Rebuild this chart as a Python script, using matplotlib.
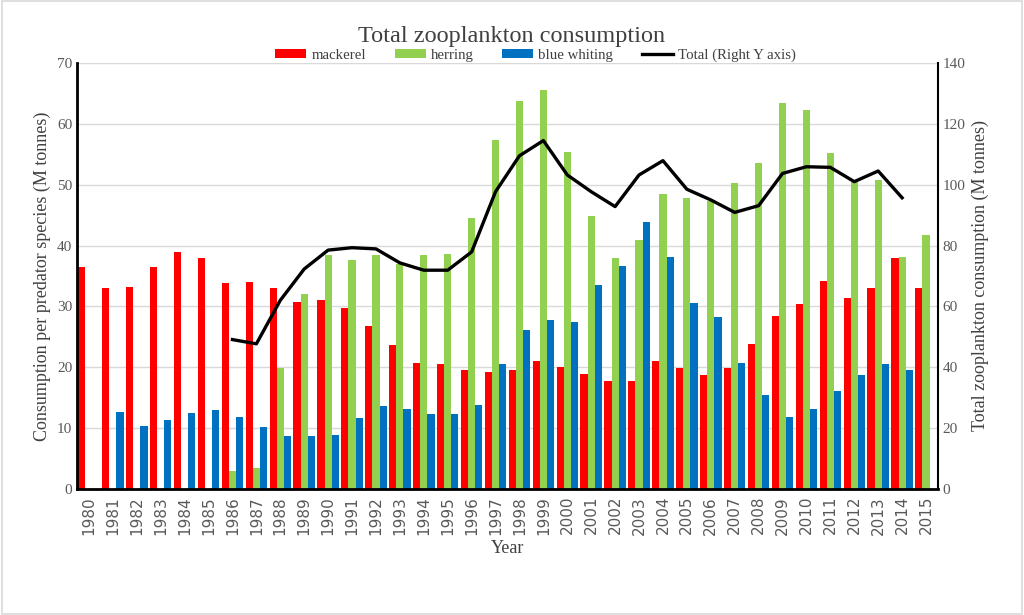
import numpy as np
import matplotlib
matplotlib.use("Agg")
import matplotlib.pyplot as plt
from matplotlib.patches import Rectangle

years = list(range(1980, 2016))
mackerel = [36.5, 33.0, 33.2, 36.5, 38.9, 37.9, 33.8, 34.0, 33.1, 30.8, 31.0, 29.7,
            26.7, 23.7, 20.7, 20.6, 19.5, 19.3, 19.5, 21.0, 20.1, 18.9, 17.8, 17.7,
            21.0, 19.8, 18.8, 19.9, 23.8, 28.4, 30.4, 34.2, 31.4, 33.0, 37.9, 33.0]
herring = [0, 0, 0, 0, 0, 0, 3.0, 3.4, 19.8, 32.1, 38.4, 37.7,
           38.4, 36.9, 38.4, 38.6, 44.5, 57.4, 63.8, 65.6, 55.3, 44.8, 38.0, 40.9,
           48.4, 47.8, 47.3, 50.2, 53.5, 63.4, 62.2, 55.2, 50.5, 50.7, 38.1, 41.8]
blue_whiting = [0, 12.6, 10.4, 11.4, 12.5, 13.0, 11.9, 10.2, 8.7, 8.7, 8.8, 11.6,
                13.6, 13.1, 12.4, 12.3, 13.8, 20.5, 26.1, 27.7, 27.5, 33.5, 36.6, 43.8,
                38.1, 30.6, 28.2, 20.7, 15.5, 11.9, 13.2, 16.1, 18.8, 20.6, 19.6, 0]
total = [np.nan] * 6 + [49.1, 47.7, 62.0, 72.3, 78.5, 79.3,
         78.9, 74.3, 71.9, 71.9, 77.9, 97.7, 109.5, 114.5, 103.2, 97.7, 92.8, 103.2,
         107.9, 98.5, 95.0, 90.9, 93.1, 103.7, 105.9, 105.7, 101.0, 104.5, 95.7] + [np.nan]

serif = ["Liberation Serif", "DejaVu Serif"]
plt.rcParams["font.family"] = serif
gray = "#595959"

fig = plt.figure(figsize=(10.24, 6.15), dpi=100)
fig.patches.append(Rectangle((0.002, 0.002), 0.996, 0.996, transform=fig.transFigure,
                             fill=False, edgecolor="#d9d9d9", linewidth=1.2))
ax = fig.add_axes([0.0752, 0.2049, 0.8408, 0.6927])
x = np.arange(len(years))
w = 0.30
ax.bar(x - w, mackerel, w, color="#ff0000", label="mackerel", zorder=2)
ax.bar(x, herring, w, color="#92d050", label="herring", zorder=2)
ax.bar(x + w, blue_whiting, w, color="#0070c0", label="blue whiting", zorder=2)
ax.set_xlim(-0.5, len(years) - 0.5)
ax.set_ylim(0, 70)
ax.set_yticks(range(0, 71, 10))
ax.grid(axis="y", color="#d9d9d9", linewidth=1, zorder=0)
ax.set_axisbelow(True)
ax.set_xticks(x)
ax.set_xticklabels([str(y) for y in years], rotation=90, fontsize=9.2, color=gray,
                   family=["DejaVu Sans"])
ax.tick_params(axis="both", length=0, labelsize=11, labelcolor=gray)
ax.tick_params(axis="x", pad=5)
ax.spines["top"].set_visible(False)
ax.spines["left"].set_linewidth(2)
ax.spines["bottom"].set_linewidth(2)
ax.spines["right"].set_visible(False)
ax.set_ylabel("Consumption per predator species (M tonnes)", fontsize=13, color="#404040")
ax.set_xlabel("Year", fontsize=13, color="#404040", labelpad=4)

ax2 = ax.twinx()
ax2.plot(x, total, color="black", linewidth=2.4, label="Total (Right Y axis)", zorder=3)
ax2.set_ylim(0, 140)
ax2.set_yticks(range(0, 141, 20))
ax2.tick_params(axis="y", length=0, labelsize=11, labelcolor=gray)
ax2.spines["top"].set_visible(False)
ax2.spines["left"].set_visible(False)
ax2.spines["bottom"].set_visible(False)
ax2.spines["right"].set_linewidth(1.5)
ax2.set_ylabel("Total zooplankton consumption (M tonnes)", fontsize=13, color="#404040")

h1, l1 = ax.get_legend_handles_labels()
h2, l2 = ax2.get_legend_handles_labels()
fig.legend(h1 + h2, l1 + l2, loc="center", bbox_to_anchor=(0.523, 0.91), ncol=4,
           frameon=False, fontsize=10.7, handlelength=2.1, handleheight=0.55,
           columnspacing=1.9, handletextpad=0.35, labelcolor="#404040")
fig.suptitle("Total zooplankton consumption", x=0.5, y=0.958, fontsize=17.5, color="#404040")
fig.savefig("out.png", dpi=100)
